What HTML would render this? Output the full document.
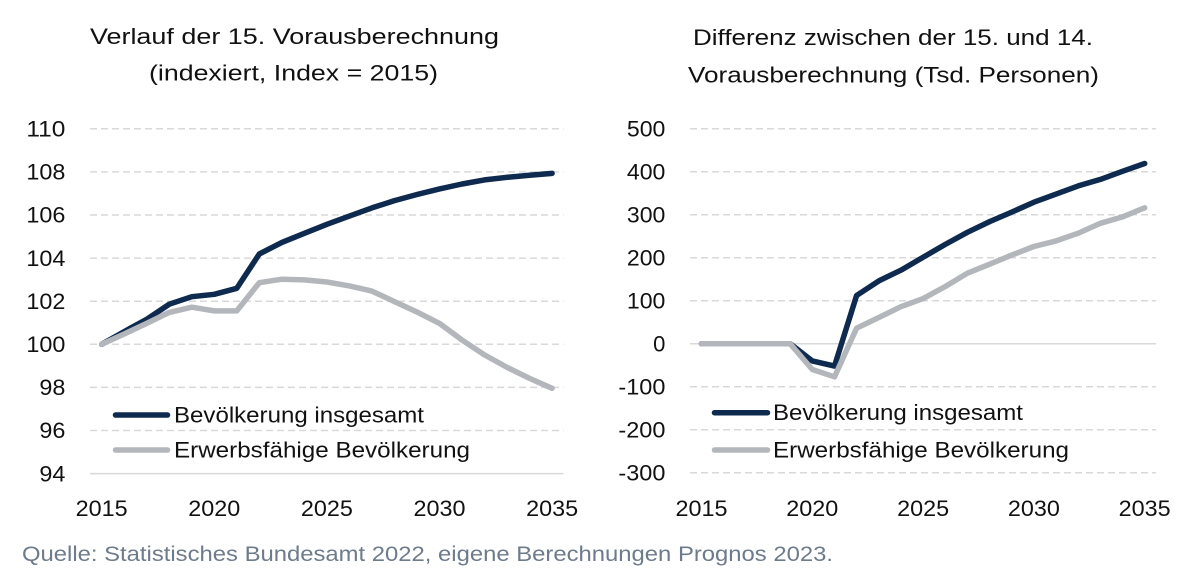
<!DOCTYPE html>
<html>
<head>
<meta charset="utf-8">
<style>
  html, body { margin: 0; padding: 0; background: #ffffff; }
  svg { display: block; }
  text { font-family: "Liberation Sans", "DejaVu Sans", sans-serif; }
</style>
</head>
<body>
<svg width="1200" height="579" viewBox="0 0 1200 579" xmlns="http://www.w3.org/2000/svg">
  <rect width="1200" height="579" fill="#ffffff"/>

  <!-- Titles -->
  <g fill="#111111" font-size="22" text-anchor="middle">
    <text x="294.5" y="44" textLength="409" lengthAdjust="spacingAndGlyphs">Verlauf der 15. Vorausberechnung</text>
    <text x="293.5" y="80.5" textLength="289" lengthAdjust="spacingAndGlyphs">(indexiert, Index = 2015)</text>
    <text x="893" y="45" textLength="400" lengthAdjust="spacingAndGlyphs">Differenz zwischen der 15. und 14.</text>
    <text x="893.5" y="82.5" textLength="411" lengthAdjust="spacingAndGlyphs">Vorausberechnung (Tsd. Personen)</text>
  </g>

  <!-- LEFT CHART gridlines -->
  <g stroke="#d9d9d9" stroke-width="1.5" stroke-dasharray="7,4">
    <line x1="90" y1="128.8" x2="563.5" y2="128.8"/>
    <line x1="90" y1="171.9" x2="563.5" y2="171.9"/>
    <line x1="90" y1="215.0" x2="563.5" y2="215.0"/>
    <line x1="90" y1="258.1" x2="563.5" y2="258.1"/>
    <line x1="90" y1="301.2" x2="563.5" y2="301.2"/>
    <line x1="90" y1="344.3" x2="563.5" y2="344.3"/>
    <line x1="90" y1="387.4" x2="563.5" y2="387.4"/>
    <line x1="90" y1="430.5" x2="563.5" y2="430.5"/>
  </g>
  <line x1="90" y1="473.6" x2="563.5" y2="473.6" stroke="#d9d9d9" stroke-width="1.5"/>

  <!-- LEFT y labels -->
  <g fill="#111111" font-size="22" text-anchor="end">
    <text x="65.4" y="136.5" textLength="39" lengthAdjust="spacingAndGlyphs">110</text>
    <text x="65.4" y="179.6" textLength="39" lengthAdjust="spacingAndGlyphs">108</text>
    <text x="65.4" y="222.7" textLength="39" lengthAdjust="spacingAndGlyphs">106</text>
    <text x="65.4" y="265.8" textLength="39" lengthAdjust="spacingAndGlyphs">104</text>
    <text x="65.4" y="308.9" textLength="39" lengthAdjust="spacingAndGlyphs">102</text>
    <text x="65.4" y="352.0" textLength="39" lengthAdjust="spacingAndGlyphs">100</text>
    <text x="65.4" y="395.1" textLength="26" lengthAdjust="spacingAndGlyphs">98</text>
    <text x="65.4" y="438.2" textLength="26" lengthAdjust="spacingAndGlyphs">96</text>
    <text x="65.4" y="481.3" textLength="26" lengthAdjust="spacingAndGlyphs">94</text>
  </g>

  <!-- LEFT x labels -->
  <g fill="#111111" font-size="22" text-anchor="middle">
    <text x="101.7" y="516" textLength="52" lengthAdjust="spacingAndGlyphs">2015</text>
    <text x="214.3" y="516" textLength="52" lengthAdjust="spacingAndGlyphs">2020</text>
    <text x="326.9" y="516" textLength="52" lengthAdjust="spacingAndGlyphs">2025</text>
    <text x="439.5" y="516" textLength="52" lengthAdjust="spacingAndGlyphs">2030</text>
    <text x="552.1" y="516" textLength="52" lengthAdjust="spacingAndGlyphs">2035</text>
  </g>

  <!-- LEFT series -->
  <polyline fill="none" stroke="#0e2a4f" stroke-width="5.5" stroke-linejoin="round" stroke-linecap="round"
    points="101.7,344.3 124.2,331.6 146.7,319.3 169.3,304.2 191.8,296.7 214.3,294.3 236.8,288.3 259.3,254.0 281.9,242.4 304.4,233.3 326.9,224.3 349.4,216.1 371.9,207.9 394.5,200.6 417.0,194.5 439.5,188.9 462.0,184.0 484.5,179.9 507.1,177.3 529.6,175.3 552.1,173.4"/>
  <polyline fill="none" stroke="#b3b7bc" stroke-width="5.5" stroke-linejoin="round" stroke-linecap="round"
    points="101.7,344.3 124.2,334.0 146.7,323.4 169.3,312.4 191.8,307.2 214.3,310.9 236.8,310.9 259.3,282.7 281.9,279.2 304.4,279.9 326.9,282.0 349.4,285.9 371.9,291.1 394.5,301.6 417.0,312.0 439.5,323.4 462.0,340.0 484.5,354.9 507.1,367.4 529.6,378.4 552.1,388.3"/>

  <!-- LEFT legend -->
  <line x1="115.5" y1="415" x2="167.5" y2="415" stroke="#0e2a4f" stroke-width="5.5" stroke-linecap="round"/>
  <line x1="115.5" y1="450" x2="167.5" y2="450" stroke="#b3b7bc" stroke-width="5.5" stroke-linecap="round"/>
  <g fill="#111111" font-size="22">
    <text x="174" y="422.3" textLength="250" lengthAdjust="spacingAndGlyphs">Bevölkerung insgesamt</text>
    <text x="174" y="457.3" textLength="296" lengthAdjust="spacingAndGlyphs">Erwerbsfähige Bevölkerung</text>
  </g>

  <!-- RIGHT CHART gridlines -->
  <g stroke="#d9d9d9" stroke-width="1.5" stroke-dasharray="7,4">
    <line x1="690" y1="128.7" x2="1156" y2="128.7"/>
    <line x1="690" y1="171.7" x2="1156" y2="171.7"/>
    <line x1="690" y1="214.7" x2="1156" y2="214.7"/>
    <line x1="690" y1="257.7" x2="1156" y2="257.7"/>
    <line x1="690" y1="300.7" x2="1156" y2="300.7"/>
    <line x1="690" y1="386.7" x2="1156" y2="386.7"/>
    <line x1="690" y1="429.7" x2="1156" y2="429.7"/>
    <line x1="690" y1="472.7" x2="1156" y2="472.7"/>
  </g>
  <line x1="690" y1="343.7" x2="1156" y2="343.7" stroke="#d9d9d9" stroke-width="1.5"/>

  <!-- RIGHT y labels -->
  <g fill="#111111" font-size="22" text-anchor="end">
    <text x="665.4" y="136.4" textLength="38.5" lengthAdjust="spacingAndGlyphs">500</text>
    <text x="665.4" y="179.4" textLength="38.5" lengthAdjust="spacingAndGlyphs">400</text>
    <text x="665.4" y="222.4" textLength="38.5" lengthAdjust="spacingAndGlyphs">300</text>
    <text x="665.4" y="265.4" textLength="38.5" lengthAdjust="spacingAndGlyphs">200</text>
    <text x="665.4" y="308.4" textLength="38.5" lengthAdjust="spacingAndGlyphs">100</text>
    <text x="665.4" y="351.4">0</text>
    <text x="665.4" y="394.4" textLength="47" lengthAdjust="spacingAndGlyphs">-100</text>
    <text x="665.4" y="437.4" textLength="47" lengthAdjust="spacingAndGlyphs">-200</text>
    <text x="665.4" y="480.4" textLength="47" lengthAdjust="spacingAndGlyphs">-300</text>
  </g>

  <!-- RIGHT x labels -->
  <g fill="#111111" font-size="22" text-anchor="middle">
    <text x="701.5" y="516" textLength="52" lengthAdjust="spacingAndGlyphs">2015</text>
    <text x="812.3" y="516" textLength="52" lengthAdjust="spacingAndGlyphs">2020</text>
    <text x="923.1" y="516" textLength="52" lengthAdjust="spacingAndGlyphs">2025</text>
    <text x="1033.9" y="516" textLength="52" lengthAdjust="spacingAndGlyphs">2030</text>
    <text x="1144.7" y="516" textLength="52" lengthAdjust="spacingAndGlyphs">2035</text>
  </g>

  <!-- RIGHT series -->
  <polyline fill="none" stroke="#0e2a4f" stroke-width="5.5" stroke-linejoin="round" stroke-linecap="round"
    points="701.5,343.7 723.7,343.7 745.8,343.7 768.0,343.7 790.1,343.7 812.3,360.9 834.5,366.1 856.6,295.5 878.8,280.9 900.9,270.2 923.1,257.3 945.3,244.4 967.4,232.3 989.6,221.6 1011.7,212.1 1033.9,202.2 1056.1,194.1 1078.2,185.9 1100.4,179.4 1122.5,171.3 1144.7,163.5"/>
  <polyline fill="none" stroke="#b3b7bc" stroke-width="5.5" stroke-linejoin="round" stroke-linecap="round"
    points="701.5,343.7 723.7,343.7 745.8,343.7 768.0,343.7 790.1,343.7 812.3,369.5 834.5,376.8 856.6,328.2 878.8,317.5 900.9,306.7 923.1,298.6 945.3,286.5 967.4,273.2 989.6,264.2 1011.7,255.1 1033.9,246.5 1056.1,240.9 1078.2,233.2 1100.4,223.3 1122.5,216.9 1144.7,207.8"/>

  <!-- RIGHT legend -->
  <line x1="714.5" y1="412.7" x2="767.5" y2="412.7" stroke="#0e2a4f" stroke-width="5.5" stroke-linecap="round"/>
  <line x1="714.5" y1="450" x2="767.5" y2="450" stroke="#b3b7bc" stroke-width="5.5" stroke-linecap="round"/>
  <g fill="#111111" font-size="22">
    <text x="773" y="420" textLength="250" lengthAdjust="spacingAndGlyphs">Bevölkerung insgesamt</text>
    <text x="773" y="457.5" textLength="296" lengthAdjust="spacingAndGlyphs">Erwerbsfähige Bevölkerung</text>
  </g>

  <!-- Footer -->
  <text x="22" y="561" font-size="21" fill="#6e7b8b" textLength="811" lengthAdjust="spacingAndGlyphs">Quelle: Statistisches Bundesamt 2022, eigene Berechnungen Prognos 2023.</text>
</svg>
</body>
</html>
